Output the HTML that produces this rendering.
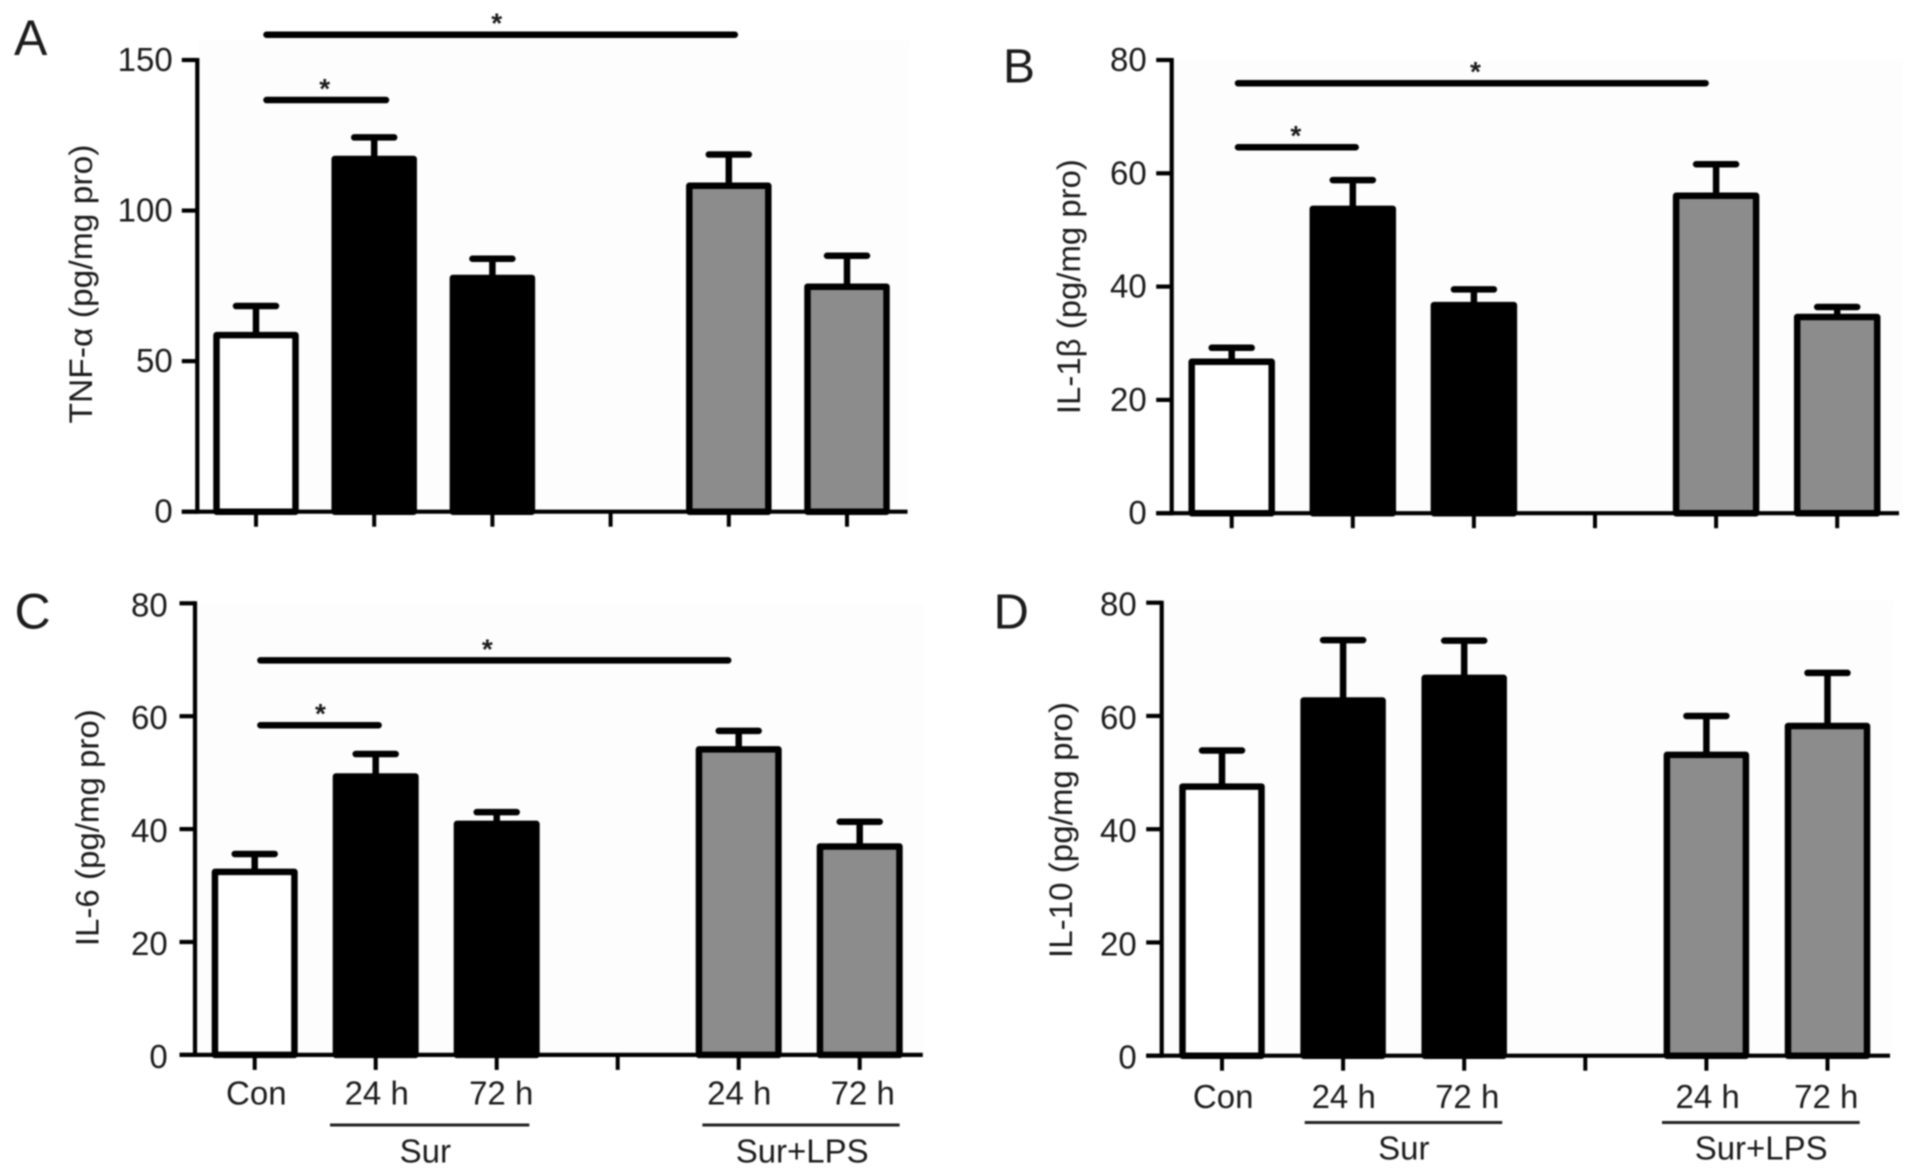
<!DOCTYPE html>
<html lang="en">
<head>
<meta charset="utf-8">
<title>Cytokine levels bar charts</title>
<style>
html,body{margin:0;padding:0;background:#fff;width:1913px;height:1175px;overflow:hidden}
svg{display:block;filter:blur(0.7px)}
text{font-family:"Liberation Sans",sans-serif;fill:#1c1c1c}
</style>
</head>
<body>
<svg id="figure" xmlns="http://www.w3.org/2000/svg" width="1913" height="1175" viewBox="0 0 1913 1175">
  <rect x="198" y="40" width="712" height="472" fill="#fdfdfd"/>
  <rect x="1173" y="60" width="730" height="453" fill="#fdfdfd"/>
  <rect x="195" y="604" width="730" height="451" fill="#fdfdfd"/>
  <rect x="1162" y="600" width="732" height="456" fill="#fdfdfd"/>
  <text x="14" y="55" font-size="50">A</text>
  <text x="1003" y="82.7" font-size="48">B</text>
  <text x="14.5" y="628.5" font-size="50">C</text>
  <text x="993.5" y="628.3" font-size="49">D</text>
</svg>
<script>
const categories = ['Con', '24 h', '72 h', '', '24 h', '72 h'];
const barFills = ['#ffffff', '#000000', '#000000', null, '#8c8c8c', '#8c8c8c'];

const tnfTicks = [0, 50, 100, 150];
const tnfValues = [59.7, 118.2, 78.7, null, 109.3, 75.8];
const tnfErrors = [68.3, 124.3, 84, null, 118.6, 85];
const tnfSigLevels = [136.7, 158.4];

const il1Ticks = [0, 20, 40, 60, 80];
const il1Values = [27.3, 54.3, 37.3, null, 56.6, 35.2];
const il1Errors = [29.2, 58.8, 39.5, null, 61.6, 36.4];
const il1SigLevels = [64.6, 75.9];

const il6Ticks = [0, 20, 40, 60, 80];
const il6Values = [33, 49.9, 41.5, null, 54.7, 37.5];
const il6Errors = [35.6, 53.3, 43, null, 57.4, 41.3];
const il6SigLevels = [58.4, 69.9];

const il10Ticks = [0, 20, 40, 60, 80];
const il10Values = [48.1, 63.3, 67.3, null, 53.7, 58.8];
const il10Errors = [53.9, 73.4, 73.3, null, 60, 67.6];
const il10SigLevels = [];

const panels = [
  { key: 'tnf', title: 'TNF-\u03b1 (pg/mg pro)', ticks: tnfTicks, values: tnfValues, errors: tnfErrors, sig: tnfSigLevels,
    axisX: 197.3, yTop: 60, y0: 511.7, x0: 256, step: 118.2, axisRight: 907.5, barW: 85.5,
    labelGap: 24.6, labelBase: 11,
    titleX: 92, titleY: 284, titleLen: 279, sigStart: 7.3, sigEnds: [15, 9.2], starDx: [-1.6, -4], showLabels: false },
  { key: 'il1', title: 'IL-1\u03b2 (pg/mg pro)', ticks: il1Ticks, values: il1Values, errors: il1Errors, sig: il1SigLevels,
    axisX: 1171.7, yTop: 60, y0: 513.2, x0: 1231.7, step: 121.1, axisRight: 1899, barW: 86.5,
    labelGap: 25, labelBase: 11,
    titleX: 1080, titleY: 286.6, titleLen: 255, sigStart: 3.1, sigEnds: [6.1, -7.3], starDx: [-1, 3.6], showLabels: false },
  { key: 'il6', title: 'IL-6 (pg/mg pro)', ticks: il6Ticks, values: il6Values, errors: il6Errors, sig: il6SigLevels,
    axisX: 195, yTop: 603.3, y0: 1054.9, x0: 254.7, step: 121, axisRight: 922.8, barW: 86,
    labelGap: 27.3, labelBase: 13,
    titleX: 98.7, titleY: 827.7, titleLen: 237, sigStart: 2.5, sigEnds: [6.1, -7.3], starDx: [1, -7], showLabels: true,
    labelY: 1104.5, ruleY: 1125, rule1: [330, 529.3], rule2: [702.4, 899.6], groupY: 1162.3, group1: 425.3, group2: 802.2,
    labelDx: [1.6, 1, 4.5, 0, 0.6, 3] },
  { key: 'il10', title: 'IL-10 (pg/mg pro)', ticks: il10Ticks, values: il10Values, errors: il10Errors, sig: il10SigLevels,
    axisX: 1161.7, yTop: 602.7, y0: 1055.7, x0: 1222, step: 121.1, axisRight: 1890, barW: 85.5,
    labelGap: 25, labelBase: 13,
    titleX: 1072, titleY: 830, titleLen: 256, sigStart: 0, sigEnds: [], starDx: [], showLabels: true,
    labelY: 1107.8, ruleY: 1122.5, rule1: [1304.7, 1502.2], rule2: [1662, 1859.7], groupY: 1159.5, group1: 1403.8, group2: 1761.2,
    labelDx: [1.2, 0.6, 3, 0, 1.2, -1.2] }
];

const SVG_NS = 'http://www.w3.org/2000/svg';
const figure = document.getElementById('figure');

function yScale(p, v) { return p.y0 - (v / p.ticks[p.ticks.length - 1]) * (p.y0 - p.yTop); }
function xScale(p, i) { return p.x0 + i * p.step; }

function make(tag, attrs, parent) {
  const el = document.createElementNS(SVG_NS, tag);
  for (const k in attrs) el.setAttribute(k, attrs[k]);
  parent.appendChild(el);
  return el;
}
function line(parent, x1, y1, x2, y2, w, cap, color) {
  return make('line', { x1: x1, y1: y1, x2: x2, y2: y2, stroke: color || '#000', 'stroke-width': w, 'stroke-linecap': cap || 'butt' }, parent);
}

panels.forEach(function (p) {
  const g = make('g', {}, figure);
  
  

  p.values.forEach(function (v, i) {
    if (v === null) return;
    const cx = xScale(p, i), top = yScale(p, v), sw = 6.5;
    const errLine = line(g, cx, top + 2, cx, yScale(p, p.errors[i]), 6.5);
    
    
    const errCap = line(g, cx - 20, yScale(p, p.errors[i]), cx + 20, yScale(p, p.errors[i]), 6.5, 'round');
    
    
    const bar = make('rect', { x: cx - p.barW / 2 + sw / 2, y: top + sw / 2, width: p.barW - sw, height: p.y0 - top - sw / 2, fill: barFills[i], stroke: '#000', 'stroke-width': sw, 'stroke-linejoin': 'round' }, g);
    
    
  });

  const yAxis = line(g, p.axisX, p.yTop - 2, p.axisX, p.y0 + 2, 4.2);
  
  
  const xAxis = line(g, p.axisX - 15.5, p.y0, p.axisRight, p.y0, 4.2);
  
  

  p.ticks.forEach(function (t) {
    const y = yScale(p, t);
    const tick = line(g, p.axisX - 15.5, y, p.axisX, y, 4.2);
    
    
    const label = make('text', { x: p.axisX - p.labelGap, y: y + p.labelBase, 'font-size': 33, 'text-anchor': 'end' }, g);
    label.textContent = String(t);
    
    
  });

  categories.forEach(function (c, i) {
    const x = xScale(p, i);
    const tick = line(g, x, p.y0, x, p.y0 + 15, 4);
    
    
    if (p.showLabels && c) {
      const label = make('text', { x: x + p.labelDx[i], y: p.labelY, 'font-size': 33, 'text-anchor': 'middle' }, g);
      label.textContent = c;
      
      
    }
  });

  const title = make('text', { x: 0, y: 0, 'font-size': 32, 'text-anchor': 'middle', textLength: p.titleLen, lengthAdjust: 'spacingAndGlyphs', fill: '#333', transform: 'translate(' + p.titleX + ' ' + p.titleY + ') rotate(-90)' }, g);
  title.textContent = p.title;
  
  

  const sigTargets = [1, 4];
  p.sig.forEach(function (level, s) {
    const x1 = xScale(p, 0) + p.sigStart, x2 = xScale(p, sigTargets[s]) + p.sigEnds[s], y = yScale(p, level);
    const bracket = line(g, x1 + 3.2, y, x2 - 3.2, y, 6.5, 'round');
    
    
    const star = make('text', { x: (x1 + x2) / 2 + p.starDx[s], y: y - 2, 'font-size': 28, 'font-weight': 'bold', 'text-anchor': 'middle' }, g);
    star.textContent = '*';
    
    
  });

  if (p.showLabels) {
    [[p.rule1, p.group1, 'Sur'], [p.rule2, p.group2, 'Sur+LPS']].forEach(function (grp, k) {
      const rule = line(g, grp[0][0], p.ruleY, grp[0][1], p.ruleY, 3, 'butt', '#222');
      
      
      const label = make('text', { x: grp[1], y: p.groupY, 'font-size': 33, 'text-anchor': 'middle' }, g);
      label.textContent = grp[2];
      
      
    });
  }
});
</script>
</body>
</html>
